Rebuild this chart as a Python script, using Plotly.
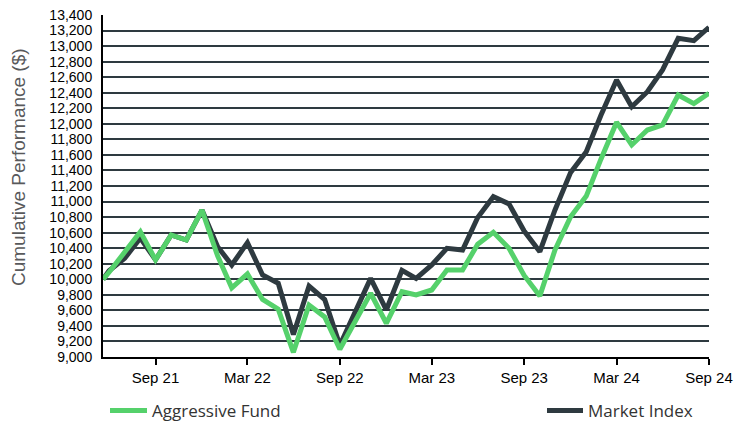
import plotly.graph_objects as go

# ---- data ----
dates = [
    "2021-06-18", "2021-06-30", "2021-07-31", "2021-08-31", "2021-09-30", "2021-10-31",
    "2021-11-30", "2021-12-31", "2022-01-31", "2022-02-28", "2022-03-31", "2022-04-30",
    "2022-05-31", "2022-06-30", "2022-07-31", "2022-08-31", "2022-09-30", "2022-10-31",
    "2022-11-30", "2022-12-31", "2023-01-31", "2023-02-28", "2023-03-31", "2023-04-30",
    "2023-05-31", "2023-06-30", "2023-07-31", "2023-08-31", "2023-09-30", "2023-10-31",
    "2023-11-30", "2023-12-31", "2024-01-31", "2024-02-29", "2024-03-31", "2024-04-30",
    "2024-05-31", "2024-06-30", "2024-07-31", "2024-08-31", "2024-09-30",
]

aggressive_fund = [
    10000, 10090, 10350, 10610, 10250, 10570,
    10505, 10890, 10300, 9890, 10068, 9740,
    9615, 9060, 9669, 9515, 9100, 9460,
    9820, 9434, 9840, 9798, 9862, 10119,
    10119, 10450, 10605, 10398, 10050, 9785,
    10377, 10805, 11070, 11545, 12020, 11728,
    11920, 11985, 12371, 12260, 12393,
]

market_index = [
    10000, 10110, 10270, 10530, 10250, 10570,
    10505, 10890, 10419, 10184, 10471, 10055,
    9948, 9290, 9913, 9740, 9150, 9580,
    10012, 9605, 10115, 10012, 10184, 10398,
    10377, 10795, 11062, 10970, 10620, 10355,
    10891, 11375, 11641, 12110, 12564, 12220,
    12413, 12693, 13100, 13070, 13242,
]

tick_dates = ["2021-09-30", "2022-03-31", "2022-09-30", "2023-03-31",
              "2023-09-30", "2024-03-31", "2024-09-30"]
tick_labels = ["Sep 21", "Mar 22", "Sep 22", "Mar 23", "Sep 23", "Mar 24", "Sep 24"]

y_min, y_max, y_step = 9000, 13400, 200

GREEN = "#55d16b"
DARK = "#2e3a40"

fig = go.Figure()
fig.add_trace(go.Scatter(
    x=dates, y=market_index, mode="lines", name="Market Index",
    line=dict(color=DARK, width=5), legend="legend2",
))
fig.add_trace(go.Scatter(
    x=dates, y=aggressive_fund, mode="lines", name="Aggressive Fund",
    line=dict(color=GREEN, width=5), legend="legend",
))

legend_font = dict(family="Open Sans", size=17, color="#333333")
fig.update_layout(
    width=750, height=421,
    margin=dict(l=103, r=41, t=15, b=64, autoexpand=False),
    paper_bgcolor="white", plot_bgcolor="white",
    showlegend=True,
    legend=dict(xref="container", yref="container", x=105 / 750, y=(421 - 411) / 421,
                xanchor="left", yanchor="middle", orientation="h",
                itemwidth=37, bgcolor="rgba(0,0,0,0)", font=legend_font),
    legend2=dict(xref="container", yref="container", x=542 / 750, y=(421 - 411) / 421,
                 xanchor="left", yanchor="middle", orientation="h",
                 itemwidth=36, bgcolor="rgba(0,0,0,0)", font=legend_font),
    annotations=[dict(
        text="Cumulative Performance ($)", textangle=-90,
        xref="paper", yref="paper", x=(18.5 - 103) / 606, y=(357 - 167.5) / 342,
        xanchor="center", yanchor="middle", showarrow=False,
        font=dict(family="Liberation Sans, Arial", size=19, color="#58595b"),
    )],
)

fig.update_xaxes(
    type="date", range=[dates[0], dates[-1]],
    tickvals=tick_dates, ticktext=tick_labels,
    showgrid=False, zeroline=False, automargin=False,
    showline=True, linecolor="black", linewidth=2,
    ticks="outside", ticklen=6, tickwidth=2, tickcolor="black",
    tickfont=dict(family="Liberation Sans, Arial", size=15, color="black"),
)

fig.update_yaxes(
    range=[y_min, y_max], dtick=y_step, tick0=y_min, tickformat=",d",
    showgrid=True, gridcolor=DARK, gridwidth=2, zeroline=False, automargin=False,
    showline=True, linecolor="black", linewidth=2,
    ticks="", ticklabelstandoff=6,
    tickfont=dict(family="Liberation Sans, Arial", size=14, color="black"),
)

fig.write_html("out.html", config={"displayModeBar": False},
               post_script="document.body.style.margin='0px';document.body.style.overflow='hidden';")
